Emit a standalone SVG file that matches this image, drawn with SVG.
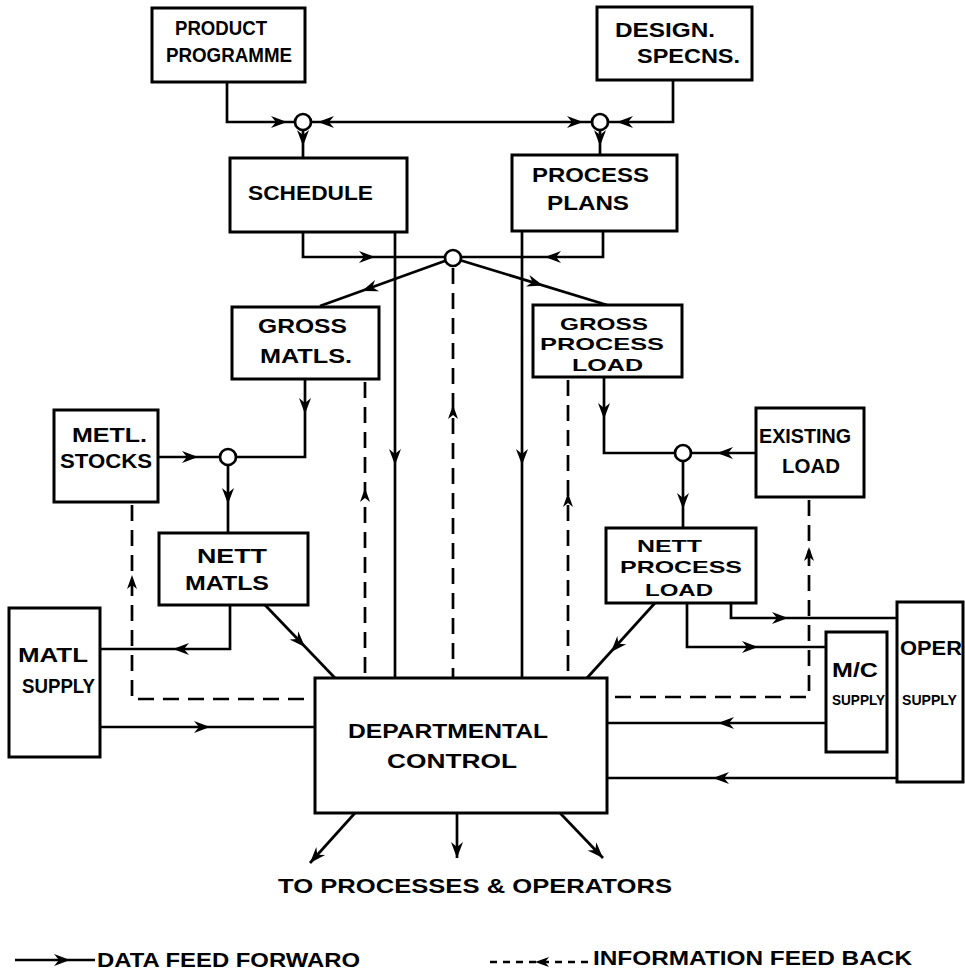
<svg xmlns="http://www.w3.org/2000/svg" xmlns:xlink="http://www.w3.org/1999/xlink" width="965" height="971" viewBox="0 0 965 971">
<style>
.box{fill:#fff;stroke:#000;stroke-width:3}
.t{font-family:"Liberation Sans",Arial,sans-serif;font-weight:bold;font-size:20px;fill:#000}
.s{font-size:15px}
.m{font-size:17px}
.ln{fill:none;stroke:#000;stroke-width:2.7}
.dl{fill:none;stroke:#000;stroke-width:2.7;stroke-dasharray:16 9}
.jn{fill:#fff;stroke:#000;stroke-width:2.7}
</style>
<defs>
<path id="a" d="M0,0 L-16,-6 L-11,0 L-16,6Z" fill="#000"/>
<path id="b" d="M0,0 L-14,-5 L-10,0 L-14,5Z" fill="#000"/>
</defs>
<rect width="965" height="971" fill="#fff"/>

<g id="connectors">
<path class="ln" d="M227,82 V122 H295"/>
<path class="ln" d="M673,80 V122 H608"/>
<path class="ln" d="M311,122 H592"/>
<path class="ln" d="M303,130 V158"/>
<path class="ln" d="M600,130 V155"/>
<path class="ln" d="M303,232 V257 H445"/>
<path class="ln" d="M603,231 V257 H461"/>
<path class="ln" d="M395,232 V678"/>
<path class="ln" d="M522,231 V678"/>
<path class="ln" d="M453,258 L320,306"/>
<path class="ln" d="M453,258 L607,305"/>
<path class="ln" d="M305,379 V457 H236"/>
<path class="ln" d="M158,457 H220"/>
<path class="ln" d="M228,465 V533"/>
<path class="ln" d="M230,605 V649 H100"/>
<path class="ln" d="M265,605 L335,678"/>
<path class="ln" d="M100,727 H315"/>
<path class="ln" d="M604,377 V453 H675"/>
<path class="ln" d="M756,453 H691"/>
<path class="ln" d="M683,461 V528"/>
<path class="ln" d="M731,603 V618 H897"/>
<path class="ln" d="M687,603 V647 H826"/>
<path class="ln" d="M655,603 L587,678"/>
<path class="ln" d="M826,723 H607"/>
<path class="ln" d="M897,778 H607"/>
<path class="ln" d="M355,813 L310,863"/>
<path class="ln" d="M457,813 V858"/>
<path class="ln" d="M560,813 L603,858"/>

<path class="dl" d="M132,505 V699 H312"/>
<path class="dl" d="M365,382 V678"/>
<path class="dl" d="M453,268 V678"/>
<path class="dl" d="M568,380 V678"/>
<path class="dl" d="M809,500 V697 H610"/>

<use xlink:href="#a" transform="translate(287,122)"/>
<use xlink:href="#a" transform="translate(617,122) rotate(180)"/>
<use xlink:href="#a" transform="translate(318,122) rotate(180)"/>
<use xlink:href="#a" transform="translate(583,122)"/>
<use xlink:href="#a" transform="translate(303,146) rotate(90)"/>
<use xlink:href="#a" transform="translate(600,146) rotate(90)"/>
<use xlink:href="#a" transform="translate(375,257)"/>
<use xlink:href="#a" transform="translate(545,257) rotate(180)"/>
<use xlink:href="#a" transform="translate(395,465) rotate(90)"/>
<use xlink:href="#a" transform="translate(522,465) rotate(90)"/>
<use xlink:href="#a" transform="translate(362,291) rotate(160.2)"/>
<use xlink:href="#a" transform="translate(543,285.5) rotate(17)"/>
<use xlink:href="#a" transform="translate(305,414) rotate(90)"/>
<use xlink:href="#a" transform="translate(198,457)"/>
<use xlink:href="#a" transform="translate(228,504) rotate(90)"/>
<use xlink:href="#a" transform="translate(173,649) rotate(180)"/>
<use xlink:href="#a" transform="translate(305,647) rotate(46.2)"/>
<use xlink:href="#a" transform="translate(210,727)"/>
<use xlink:href="#a" transform="translate(604,419) rotate(90)"/>
<use xlink:href="#a" transform="translate(717,453) rotate(180)"/>
<use xlink:href="#a" transform="translate(683,509) rotate(90)"/>
<use xlink:href="#a" transform="translate(788,618)"/>
<use xlink:href="#a" transform="translate(758,647)"/>
<use xlink:href="#a" transform="translate(611,652) rotate(132.2)"/>
<use xlink:href="#a" transform="translate(718,723) rotate(180)"/>
<use xlink:href="#a" transform="translate(713,778) rotate(180)"/>
<use xlink:href="#a" transform="translate(310,863) rotate(132)"/>
<use xlink:href="#a" transform="translate(457,858) rotate(90)"/>
<use xlink:href="#a" transform="translate(603,858) rotate(46.3)"/>

<use xlink:href="#b" transform="translate(132,575) rotate(-90)"/>
<use xlink:href="#b" transform="translate(365,488) rotate(-90)"/>
<use xlink:href="#b" transform="translate(453,405) rotate(-90)"/>
<use xlink:href="#b" transform="translate(568,493) rotate(-90)"/>
<use xlink:href="#b" transform="translate(809,547) rotate(-90)"/>

<circle class="jn" cx="303" cy="122" r="8"/>
<circle class="jn" cx="600" cy="122" r="8"/>
<circle class="jn" cx="453" cy="258" r="8"/>
<circle class="jn" cx="228" cy="457" r="8"/>
<circle class="jn" cx="683" cy="453" r="8"/>
</g>

<g id="product-programme"><rect class="box" x="152" y="8" width="153" height="74"/>
<text class="t" x="175" y="35" textLength="92" lengthAdjust="spacingAndGlyphs">PRODUCT</text>
<text class="t" x="166" y="62" textLength="126" lengthAdjust="spacingAndGlyphs">PROGRAMME</text></g>

<g id="design-specns"><rect class="box" x="597" y="7" width="155" height="73"/>
<text class="t" x="615" y="37" textLength="100" lengthAdjust="spacingAndGlyphs">DESIGN.</text>
<text class="t" x="637" y="63" textLength="103" lengthAdjust="spacingAndGlyphs">SPECNS.</text></g>

<g id="schedule"><rect class="box" x="230" y="158" width="177" height="74"/>
<text class="t" x="248" y="200" textLength="125" lengthAdjust="spacingAndGlyphs">SCHEDULE</text></g>

<g id="process-plans"><rect class="box" x="512" y="155" width="165" height="76"/>
<text class="t" x="532" y="182" textLength="117" lengthAdjust="spacingAndGlyphs">PROCESS</text>
<text class="t" x="547" y="210" textLength="82" lengthAdjust="spacingAndGlyphs">PLANS</text></g>

<g id="gross-matls"><rect class="box" x="232" y="307" width="147" height="72"/>
<text class="t" x="258" y="333" textLength="89" lengthAdjust="spacingAndGlyphs">GROSS</text>
<text class="t" x="260" y="363" textLength="92" lengthAdjust="spacingAndGlyphs">MATLS.</text></g>

<g id="gross-process-load"><rect class="box" x="533" y="305" width="149" height="72"/>
<text class="t m" x="560" y="330" textLength="88" lengthAdjust="spacingAndGlyphs">GROSS</text>
<text class="t m" x="540" y="350" textLength="124" lengthAdjust="spacingAndGlyphs">PROCESS</text>
<text class="t m" x="572" y="371" textLength="71" lengthAdjust="spacingAndGlyphs">LOAD</text></g>

<g id="metl-stocks"><rect class="box" x="54" y="410" width="104" height="92"/>
<text class="t" x="72" y="442" textLength="75" lengthAdjust="spacingAndGlyphs">METL.</text>
<text class="t" x="60" y="468" textLength="92" lengthAdjust="spacingAndGlyphs">STOCKS</text></g>

<g id="existing-load"><rect class="box" x="756" y="408" width="108" height="89"/>
<text class="t" x="759" y="443" textLength="92" lengthAdjust="spacingAndGlyphs">EXISTING</text>
<text class="t" x="782" y="473" textLength="58" lengthAdjust="spacingAndGlyphs">LOAD</text></g>

<g id="nett-matls"><rect class="box" x="159" y="533" width="149" height="72"/>
<text class="t" x="197" y="563" textLength="70" lengthAdjust="spacingAndGlyphs">NETT</text>
<text class="t" x="185" y="590" textLength="84" lengthAdjust="spacingAndGlyphs">MATLS</text></g>

<g id="nett-process-load"><rect class="box" x="606" y="528" width="150" height="75"/>
<text class="t m" x="637" y="552" textLength="65" lengthAdjust="spacingAndGlyphs">NETT</text>
<text class="t m" x="620" y="573" textLength="122" lengthAdjust="spacingAndGlyphs">PROCESS</text>
<text class="t m" x="645" y="596" textLength="68" lengthAdjust="spacingAndGlyphs">LOAD</text></g>

<g id="matl-supply"><rect class="box" x="9" y="608" width="91" height="149"/>
<text class="t" x="18" y="662" textLength="70" lengthAdjust="spacingAndGlyphs">MATL</text>
<text class="t" x="22" y="693" textLength="73" lengthAdjust="spacingAndGlyphs">SUPPLY</text></g>

<g id="departmental-control"><rect class="box" x="315" y="678" width="292" height="135"/>
<text class="t" x="348" y="738" textLength="200" lengthAdjust="spacingAndGlyphs">DEPARTMENTAL</text>
<text class="t" x="387" y="768" textLength="130" lengthAdjust="spacingAndGlyphs">CONTROL</text></g>

<g id="mc-supply"><rect class="box" x="826" y="632" width="61" height="120"/>
<text class="t" x="832" y="677" textLength="46" lengthAdjust="spacingAndGlyphs">M/C</text>
<text class="t s" x="832" y="705" textLength="53" lengthAdjust="spacingAndGlyphs">SUPPLY</text></g>

<g id="oper-supply"><rect class="box" x="897" y="602" width="66" height="180"/>
<text class="t" x="900" y="655" textLength="62" lengthAdjust="spacingAndGlyphs">OPER</text>
<text class="t s" x="902" y="705" textLength="55" lengthAdjust="spacingAndGlyphs">SUPPLY</text></g>

<g id="outputs-label">
<text class="t" x="278" y="893" textLength="394" lengthAdjust="spacingAndGlyphs">TO PROCESSES &amp; OPERATORS</text></g>

<g id="legend">
<path class="ln" d="M15,960 H95"/>
<use xlink:href="#a" transform="translate(70,960)"/>
<text class="t" x="97" y="967" textLength="263" lengthAdjust="spacingAndGlyphs">DATA FEED FORWARO</text>
<path class="ln" d="M490,962 H590" stroke-dasharray="7 6"/>
<use xlink:href="#b" transform="translate(535,962) rotate(180)"/>
<text class="t" x="593" y="965" textLength="319" lengthAdjust="spacingAndGlyphs">INFORMATION FEED BACK</text>
</g>
</svg>
